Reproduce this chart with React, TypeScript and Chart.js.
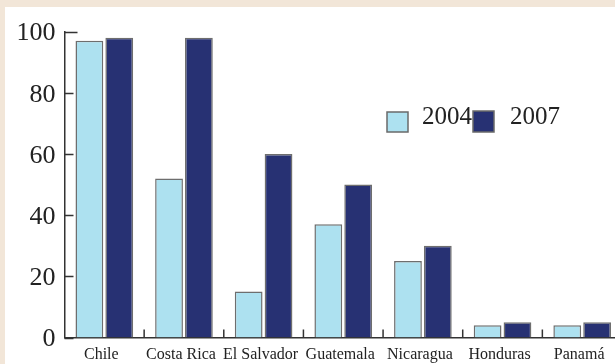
import { useEffect, useRef } from 'react';
import { Chart, registerables } from 'chart.js';

Chart.register(...registerables);

const categories = ['Chile', 'Costa Rica', 'El Salvador', 'Guatemala', 'Nicaragua', 'Honduras', 'Panamá'];
const series2004 = [97, 52, 15, 37, 25, 4, 4];
const series2007 = [98, 98, 60, 50, 30, 5, 5];
const seriesLabels = ['2004', '2007'];
const yTicks = [0, 20, 40, 60, 80, 100];

const LIGHT = '#ADE1F0';
const DARK = '#273173';
const FONT = '"Liberation Serif", "Times New Roman", serif';

const inwardTicks = {
  id: 'inwardTicks',
  afterDatasetsDraw(chart: any) {
    const { ctx, chartArea, scales } = chart;
    const x = scales.x;
    const y = scales.y;
    ctx.save();
    ctx.strokeStyle = '#333';
    ctx.lineWidth = 1.5;
    ctx.beginPath();
    y.ticks.forEach((t: any) => {
      const py = Math.round(y.getPixelForValue(t.value)) + 0.5;
      const len = t.value === y.max ? 13 : 9;
      ctx.moveTo(chartArea.left, py);
      ctx.lineTo(chartArea.left + len, py);
    });
    for (let i = 1; i < categories.length; i++) {
      const px = (x.getPixelForValue(i - 1) + x.getPixelForValue(i)) / 2;
      ctx.moveTo(px, chartArea.bottom);
      ctx.lineTo(px, chartArea.bottom - 8);
    }
    ctx.stroke();
    ctx.restore();
  },
};

const innerLegend = {
  id: 'innerLegend',
  afterDraw(chart: any, _args: any, opts: any) {
    const { ctx } = chart;
    ctx.save();
    ctx.font = `25px ${FONT}`;
    ctx.textBaseline = 'alphabetic';
    ctx.textAlign = 'left';
    chart.data.datasets.forEach((ds: any, i: number) => {
      const item = opts.items[i];
      ctx.fillStyle = ds.backgroundColor;
      ctx.fillRect(item.bx, item.by, item.bw, item.bh);
      ctx.strokeStyle = '#6a6a6a';
      ctx.lineWidth = 1.5;
      ctx.strokeRect(item.bx, item.by, item.bw, item.bh);
      ctx.fillStyle = '#222';
      ctx.fillText(ds.label, item.tx, item.ty);
    });
    ctx.restore();
  },
};

export default function App() {
  const ref = useRef<HTMLCanvasElement | null>(null);

  useEffect(() => {
    if (!ref.current) return;
    const chart = new Chart(ref.current, {
      type: 'bar',
      data: {
        labels: categories,
        datasets: [
          {
            label: seriesLabels[0],
            data: series2004,
            backgroundColor: LIGHT,
            borderColor: '#6e6e6e',
            borderWidth: 1.5,
          },
          {
            label: seriesLabels[1],
            data: series2007,
            backgroundColor: DARK,
            borderColor: '#6e6e6e',
            borderWidth: 1.5,
          },
        ],
      },
      options: {
        responsive: false,
        animation: false,
        layout: { padding: { top: 23, left: 0, right: 3, bottom: 0 } },
        datasets: {
          bar: { categoryPercentage: 0.75, barPercentage: 0.93 },
        },
        plugins: {
          legend: { display: false },
          tooltip: { enabled: false },
          innerLegend: {
            items: [
              { bx: 382, by: 105, bw: 21, bh: 20, tx: 417, ty: 117 },
              { bx: 468, by: 104, bw: 21, bh: 21, tx: 505, ty: 117 },
            ],
          },
        } as any,
        scales: {
          x: {
            grid: { display: false, drawTicks: false },
            border: { display: true, color: '#333', width: 1.5 },
            ticks: {
              color: '#222',
              font: { family: FONT, size: 16 },
              padding: 8,
              labelOffset: -3,
              maxRotation: 0,
              autoSkip: false,
            },
            afterFit: (s: any) => {
              s.height = 26.5;
            },
          },
          y: {
            min: 0,
            max: 100,
            afterBuildTicks: (s: any) => {
              s.ticks = yTicks.map((v) => ({ value: v }));
            },
            grid: { display: false, drawTicks: false },
            border: { display: true, color: '#333', width: 1.5 },
            ticks: {
              color: '#222',
              font: { family: FONT, size: 26 },
              padding: 9,
              labelOffset: 2,
            },
            afterFit: (s: any) => {
              s.width = 59.5;
            },
          },
        },
      },
      plugins: [inwardTicks, innerLegend],
    });
    return () => chart.destroy();
  }, []);

  return (
    <div style={{ position: 'fixed', inset: 0, background: '#F2E6D8', overflow: 'hidden' }}>
      <div
        style={{
          position: 'absolute',
          left: 5,
          top: 7,
          right: 0,
          bottom: 0,
          background: '#ffffff',
          overflow: 'hidden',
        }}
      >
        <canvas ref={ref} width={620} height={357} style={{ display: 'block' }} />
      </div>
    </div>
  );
}
